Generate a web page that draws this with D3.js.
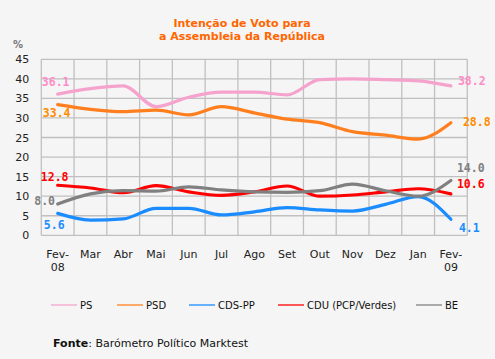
<!DOCTYPE html>
<html><head><meta charset="utf-8">
<script src="https://cdn.jsdelivr.net/npm/d3@7"></script>
<style>
html,body{margin:0;padding:0;background:#f5f5f5;}
svg{display:block;}
</style></head>
<body>
<svg id="c" width="495" height="359"></svg>
<script>
const months = ["Fev-08","Mar","Abr","Mai","Jun","Jul","Ago","Set","Out","Nov","Dez","Jan","Fev-09"];
const yTicks = [0,5,10,15,20,25,30,35,40,45];
const seriesNames = ["PS","PSD","CDS-PP","CDU (PCP/Verdes)","BE"];
const ps    = [36.1,37.5,38.2,32.9,35.3,36.6,36.6,35.9,39.8,40.0,39.8,39.5,38.2];
const psd   = [33.4,32.2,31.6,32.0,30.8,32.9,31.3,29.7,28.8,26.5,25.6,24.6,28.8];
const cdspp = [5.6,3.9,4.2,6.9,6.9,5.2,6.0,7.1,6.5,6.2,7.9,9.9,4.1];
const cdu   = [12.8,12.1,10.9,12.7,11.1,10.2,11.1,12.6,10.0,10.3,11.1,11.9,10.6];
const be    = [8.0,10.6,11.4,11.3,12.4,11.6,11.1,11.0,11.4,13.1,11.4,10.0,14.0];
const seriesValues = [ps, psd, cdspp, cdu, be];

// styles (not data)
const colors = ["#f5a3cd","#ff7f1e","#1a8cff","#ff0000","#808080"];
const labelColors = ["#ff8cc6","#ff8c00","#1a8cff","#ff0000","#808080"];
// label offsets [dx,dy,anchor] relative to first/last point
const firstLbl = [[-2,-8,"middle"],[-1,12,"middle"],[-3.5,15.6,"middle"],[-3,-4.5,"middle"],[-2.7,0.5,"end"]];
const lastLbl  = [[7,-1,"start"],[12,3,"start"],[8,12.4,"start"],[6,-6,"start"],[6,-9,"start"]];

const svg = d3.select("#c");
const m = {l:41.3, r:467.3, t:59.3, b:235.3};
const x = d3.scaleBand().domain(months).range([m.l, m.r]);
const xc = d => x(d) + x.bandwidth()/2;
const y = d3.scaleLinear().domain([0,45]).range([m.b, m.t]);
const font = "Verdana, 'DejaVu Sans', sans-serif";

// title
const title = svg.append("text").attr("x",242).attr("y",26.5)
  .attr("text-anchor","middle").attr("font-family",font).attr("font-weight","bold")
  .attr("font-size","11px").attr("fill","#ff6600");
title.append("tspan").attr("x",242).attr("y",26.5).text("Intenção de Voto para");
title.append("tspan").attr("x",242).attr("y",39.5).text("a Assembleia da República");

svg.append("text").attr("x",13).attr("y",48).attr("font-family",font)
  .attr("font-size","10px").attr("font-weight","bold").attr("fill","#777").text("%");

// grid
const grid = svg.append("g");
grid.selectAll("line.h").data(yTicks).join("line")
  .attr("x1",m.l).attr("x2",m.r).attr("y1",d=>y(d)).attr("y2",d=>y(d))
  .attr("stroke","#c0c0c0").attr("stroke-width",1.3);
const vlines = months.map(d=>x(d)).concat([m.r]);
grid.selectAll("line.v").data(vlines).join("line")
  .attr("x1",d=>d).attr("x2",d=>d).attr("y1",m.t).attr("y2",m.b)
  .attr("stroke","#c0c0c0").attr("stroke-width",1.3);

// y axis
const ya = svg.append("g").attr("transform",`translate(${m.l},0)`)
  .call(d3.axisLeft(y).tickValues(yTicks).tickSize(0).tickPadding(12));
ya.select(".domain").remove();
ya.selectAll("text").attr("font-family",font).attr("font-size","11px").attr("fill","#222");

// x axis
const xa = svg.append("g").attr("transform",`translate(0,${m.b})`)
  .call(d3.axisBottom(x).tickSize(0).tickPadding(0));
xa.select(".domain").remove();
xa.selectAll("text").each(function(d){
  const t = d3.select(this); t.text(null);
  t.attr("font-family",font).attr("font-size","11px").attr("fill","#222").attr("y",0).attr("dy",null);
  const parts = d.includes("-") ? [d.split("-")[0]+"-", d.split("-")[1]] : [d];
  parts.forEach((p,i)=>t.append("tspan").attr("x",0).attr("y",22.5+i*12.8).text(p));
});

// lines
const line = d3.line().x((d,i)=>xc(months[i])).y(d=>y(d)).curve(d3.curveMonotoneX);
svg.append("g").selectAll("path").data(seriesValues).join("path")
  .attr("d",line).attr("fill","none").attr("stroke",(d,i)=>colors[i])
  .attr("stroke-width",3.2).attr("stroke-linecap","round");

// value labels
const lblFont = "'DejaVu Sans Mono', 'Liberation Mono', monospace";
const lg = svg.append("g").attr("font-family",lblFont).attr("font-weight","bold").attr("font-size","11.5px");
seriesValues.forEach((vals,i)=>{
  const f = firstLbl[i], l = lastLbl[i];
  lg.append("text").attr("x",xc(months[0])+f[0]).attr("y",y(vals[0])+f[1])
    .attr("text-anchor",f[2]).attr("fill",labelColors[i]).text(vals[0].toFixed(1));
  const n = vals.length-1;
  lg.append("text").attr("x",xc(months[n])+l[0]).attr("y",y(vals[n])+l[1])
    .attr("text-anchor",l[2]).attr("fill",labelColors[i]).text(vals[n].toFixed(1));
});

// legend
const legX = [51,117,189,278,416];
const leg = svg.append("g");
seriesNames.forEach((s,i)=>{
  leg.append("line").attr("x1",legX[i]).attr("x2",legX[i]+26).attr("y1",305).attr("y2",305)
    .attr("stroke",colors[i]).attr("stroke-width",1.3);
  leg.append("text").attr("x",legX[i]+29).attr("y",309).attr("font-family","'DejaVu Sans', sans-serif")
    .attr("font-size","10px").attr("fill","#111").text(s);
});

// source
const src = svg.append("text").attr("x",53).attr("y",347).attr("font-family","'DejaVu Sans', sans-serif")
  .attr("font-size","11px").attr("fill","#111");
src.append("tspan").attr("font-weight","bold").text("Fonte");
src.append("tspan").text(": Barómetro Político Marktest");
</script>
</body></html>
